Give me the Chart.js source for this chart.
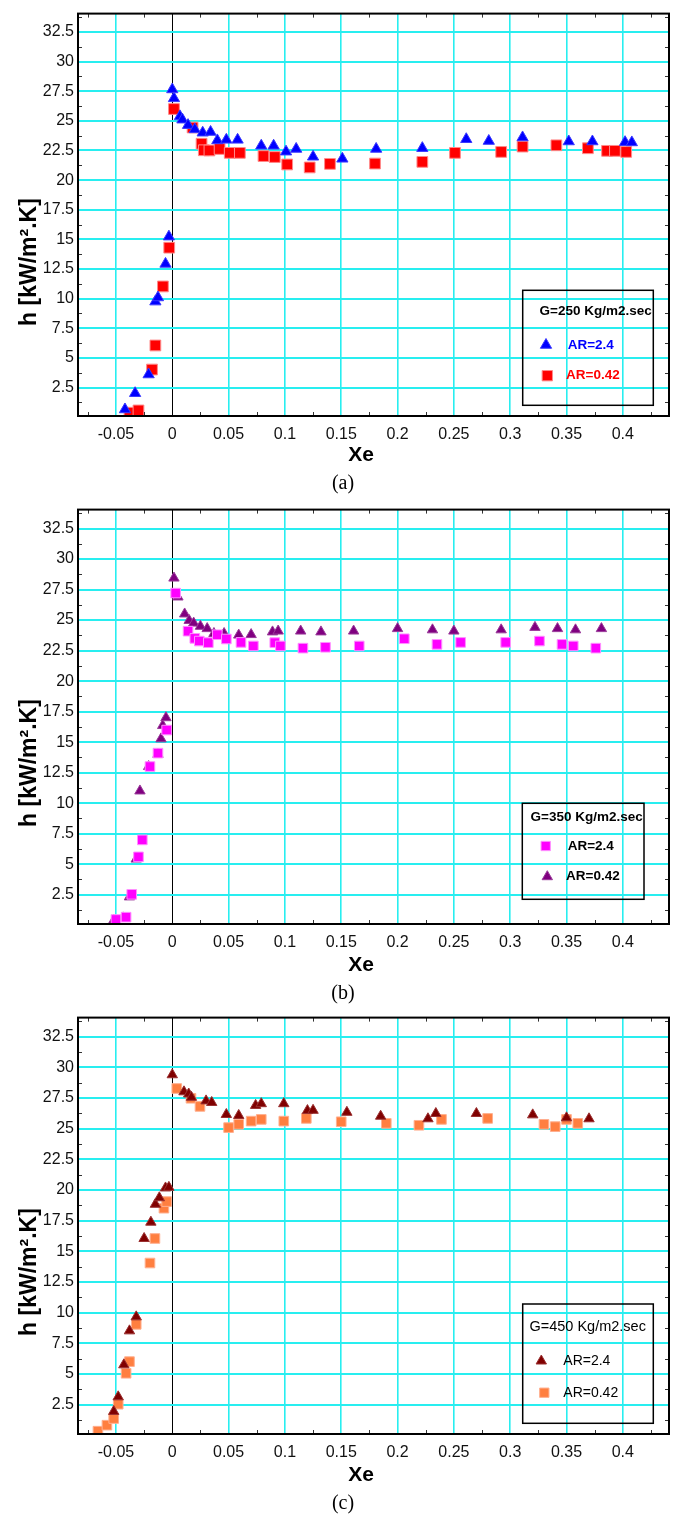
<!DOCTYPE html>
<html><head><meta charset="utf-8">
<script src="https://cdn.jsdelivr.net/npm/chart.js@4.4.0/dist/chart.umd.min.js"></script>
<style>
html,body{margin:0;padding:0;background:#fff;}
body{width:678px;height:1519px;position:relative;overflow:hidden;}
.c{position:absolute;left:0;width:678px;}
canvas{display:block;}
</style></head><body>
<div class="c" style="top:0px;height:496px"><canvas id="ca" width="678" height="496"></canvas></div>
<div class="c" style="top:496px;height:508px"><canvas id="cb" width="678" height="508"></canvas></div>
<div class="c" style="top:1004px;height:515px"><canvas id="cc" width="678" height="515"></canvas></div>
<script>
// ---------- tick labels ----------
const xTickVals = [-0.05,0,0.05,0.1,0.15,0.2,0.25,0.3,0.35,0.4];
const xTickLabels = ['-0.05','0','0.05','0.1','0.15','0.2','0.25','0.3','0.35','0.4'];
const xMinorVals = [-0.075,-0.025,0.025,0.075,0.125,0.175,0.225,0.275,0.325,0.375,0.425];
const yTickVals = [2.5,5,7.5,10,12.5,15,17.5,20,22.5,25,27.5,30,32.5];
const yTickLabels = ['2.5','5','7.5','10','12.5','15','17.5','20','22.5','25','27.5','30','32.5'];
const yMinorVals = [1.25,3.75,6.25,8.75,11.25,13.75,16.25,18.75,21.25,23.75,26.25,28.75,31.25,33.75];
const X_MIN = -0.0837, X_MAX = 0.441, Y_MIN = 0.1, Y_MAX = 34.05;

// ---------- panel (a): G=250 ----------
const aTitle = 'G=250 Kg/m2.sec';
const aS1Label = 'AR=2.4', aS2Label = 'AR=0.42';
const aS1x = [-0.042,-0.033,-0.021,-0.015,-0.0127,-0.006,-0.003,0,0.0015,0.0068,0.009,0.014,0.020,0.027,0.034,0.040,0.048,0.058,0.079,0.090,0.101,0.110,0.125,0.151,0.181,0.222,0.261,0.281,0.311,0.352,0.373,0.402,0.408];
const aS1y = [0.65,2.02,3.6,9.75,10.1,12.93,15.23,27.65,26.9,25.38,25.1,24.64,24.28,24.0,24.06,23.35,23.4,23.4,22.9,22.9,22.4,22.63,21.97,21.8,22.63,22.7,23.45,23.3,23.6,23.26,23.26,23.2,23.18];
const aS2x = [-0.038,-0.030,-0.018,-0.015,-0.0083,-0.0027,0.0015,0.018,0.026,0.028,0.033,0.042,0.051,0.060,0.081,0.091,0.102,0.122,0.140,0.180,0.222,0.251,0.292,0.311,0.341,0.369,0.386,0.393,0.403];
const aS2y = [0.38,0.57,4.02,6.05,11.03,14.3,26.0,24.44,23.07,22.52,22.5,22.63,22.3,22.3,22.03,21.95,21.32,21.07,21.37,21.4,21.54,22.3,22.38,22.83,22.94,22.69,22.47,22.47,22.38];

// ---------- panel (b): G=350 ----------
const bTitle = 'G=350 Kg/m2.sec';
const bS1Label = 'AR=2.4', bS2Label = 'AR=0.42';
const bS1x = [-0.050,-0.041,-0.036,-0.030,-0.0266,-0.0198,-0.0127,-0.005,0.003,0.014,0.020,0.024,0.032,0.040,0.048,0.061,0.072,0.091,0.096,0.116,0.136,0.166,0.206,0.235,0.256,0.296,0.326,0.346,0.356,0.376];
const bS1y = [0.47,0.66,2.53,5.6,6.99,13.0,14.1,15.99,27.21,24.09,23.5,23.28,23.15,23.8,23.45,23.17,22.88,23.15,22.88,22.7,22.77,22.88,23.47,23.01,23.17,23.17,23.28,23.01,22.88,22.7];
const bS2x = [-0.052,-0.0435,-0.038,-0.032,-0.0287,-0.021,-0.0127,-0.010,-0.0085,-0.0056,0.0015,0.005,0.011,0.015,0.019,0.025,0.031,0.037,0.046,0.059,0.070,0.089,0.094,0.114,0.132,0.161,0.200,0.231,0.250,0.292,0.322,0.342,0.358,0.381];
const bS2y = [0.39,0.6,2.32,5.42,11.0,13.0,14.0,15.27,16.36,17.0,28.44,26.89,25.5,24.97,24.75,24.49,24.3,23.9,23.9,23.77,23.81,24.03,24.1,24.1,24.03,24.1,24.3,24.2,24.1,24.2,24.4,24.3,24.2,24.3];

// ---------- panel (c): G=450 ----------
const cTitle = 'G=450 Kg/m2.sec';
const cS1Label = 'AR=2.4', cS2Label = 'AR=0.42';
const cS1x = [-0.052,-0.048,-0.043,-0.038,-0.032,-0.025,-0.019,-0.015,-0.0115,-0.006,-0.003,0,0.0104,0.0146,0.017,0.030,0.035,0.048,0.059,0.074,0.079,0.099,0.120,0.125,0.155,0.185,0.227,0.234,0.270,0.320,0.350,0.370];
const cS1y = [1.94,3.13,5.74,8.51,9.65,16.04,17.37,18.83,19.36,20.16,20.21,29.39,28.0,27.82,27.55,27.26,27.13,26.15,26.07,26.89,27.03,27.03,26.47,26.49,26.33,26.01,25.8,26.23,26.23,26.12,25.88,25.8];
const cS2x = [-0.066,-0.058,-0.052,-0.048,-0.041,-0.038,-0.032,-0.0198,-0.0154,-0.0074,-0.005,0.004,0.0166,0.0246,0.050,0.059,0.070,0.079,0.099,0.119,0.150,0.190,0.219,0.239,0.280,0.330,0.340,0.350,0.360];
const cS2y = [0.33,0.82,1.36,2.53,5.05,6.0,9.04,14.04,16.04,18.51,19.05,28.27,27.47,26.81,25.08,25.35,25.61,25.75,25.61,25.83,25.56,25.43,25.27,25.75,25.83,25.35,25.16,25.75,25.43];

const FONT = "'Liberation Sans', Arial, sans-serif";
const pts = (xs, ys) => xs.map((x, i) => ({x: x, y: ys[i]}));

function drawMarker(ctx, shape, x, y, r, fill, stroke) {
  ctx.save();
  ctx.fillStyle = fill; ctx.strokeStyle = stroke; ctx.lineWidth = 1;
  ctx.beginPath();
  if (shape === 'triangle') {
    let a = 0;
    ctx.moveTo(x + Math.sin(a) * r, y - Math.cos(a) * r);
    a += 2 * Math.PI / 3;
    ctx.lineTo(x + Math.sin(a) * r, y - Math.cos(a) * r);
    a += 2 * Math.PI / 3;
    ctx.lineTo(x + Math.sin(a) * r, y - Math.cos(a) * r);
    ctx.closePath();
  } else {
    const s = Math.SQRT1_2 * r;
    ctx.rect(x - s, y - s, 2 * s, 2 * s);
  }
  ctx.fill(); ctx.stroke();
  ctx.restore();
}

function framePlugin(cfg) {
  return {
    id: 'frame_' + cfg.id,
    afterDraw(chart) {
      const ctx = chart.ctx, ca = chart.chartArea;
      const xs = chart.scales.x, ys = chart.scales.y;
      const off = cfg.top;
      ctx.save();
      // minor ticks
      ctx.strokeStyle = '#333'; ctx.lineWidth = 1;
      xMinorVals.forEach(v => {
        const p = Math.round(xs.getPixelForValue(v)) + 0.5;
        ctx.beginPath();
        ctx.moveTo(p, ca.bottom); ctx.lineTo(p, ca.bottom - 4);
        ctx.moveTo(p, ca.top); ctx.lineTo(p, ca.top + 4);
        ctx.stroke();
      });
      yMinorVals.forEach(v => {
        const p = Math.round(ys.getPixelForValue(v)) + 0.5;
        if (p < ca.top || p > ca.bottom) return;
        ctx.beginPath();
        ctx.moveTo(ca.left, p); ctx.lineTo(ca.left + 4, p);
        ctx.moveTo(ca.right, p); ctx.lineTo(ca.right - 4, p);
        ctx.stroke();
      });
      // border
      ctx.strokeStyle = '#000'; ctx.lineWidth = 2;
      ctx.strokeRect(ca.left, ca.top, ca.right - ca.left, ca.bottom - ca.top);
      // axis titles
      ctx.fillStyle = '#000';
      ctx.textAlign = 'center'; ctx.textBaseline = 'middle';
      ctx.font = 'bold 21px ' + FONT;
      ctx.fillText('Xe', cfg.xeX, cfg.xeY - off);
      ctx.save();
      ctx.translate(30, cfg.yTitleY - off);
      ctx.rotate(-Math.PI / 2);
      ctx.font = 'bold 23px ' + FONT;
      ctx.fillText('h [kW/m\u00B2.K]', 0, 0);
      ctx.restore();
      // caption
      ctx.font = "20px 'Liberation Serif', 'Times New Roman', serif";
      ctx.fillText(cfg.caption, cfg.capX, cfg.capY - off);
      // legend box
      const L = cfg.legend;
      ctx.strokeStyle = '#000'; ctx.lineWidth = 1.5;
      ctx.strokeRect(L.x, L.y - off, L.w, L.h);
      ctx.font = L.titleFont;
      ctx.fillStyle = '#000';
      ctx.fillText(L.title, L.tx, L.ty - off);
      ctx.textAlign = 'left';
      ctx.font = L.itemFont;
      L.items.forEach((it, i) => {
        const ds = chart.data.datasets[it.ds];
        drawMarker(ctx, ds.pointStyle, it.mx, it.my - off, it.r, ds.backgroundColor, ds.borderColor);
        ctx.fillStyle = it.tc;
        ctx.fillText(ds.label, it.tx, it.my - off);
      });
      ctx.restore();
    }
  };
}

function makePanel(cfg) {
  return new Chart(document.getElementById(cfg.id), {
    type: 'scatter',
    data: {datasets: cfg.datasets},
    options: {
      responsive: false, animation: false,
      layout: {padding: {top: cfg.padTop, right: 9, left: 0, bottom: 0}},
      plugins: {legend: {display: false}, tooltip: {enabled: false}},
      scales: {
        x: {
          type: 'linear', min: X_MIN, max: X_MAX,
          afterBuildTicks: s => { s.ticks = xTickVals.map(v => ({value: v})); },
          afterFit: s => { s.height = cfg.xAxisH; },
          ticks: {autoSkip: false, maxRotation: 0, padding: 9, color: '#111',
                  font: {family: FONT, size: 16},
                  callback: (v, i) => xTickLabels[i]},
          grid: {drawTicks: false,
                 color: c => (c.tick && Math.abs(c.tick.value) < 1e-9) ? '#000' : '#28eef0',
                 lineWidth: c => (c.tick && Math.abs(c.tick.value) < 1e-9) ? 1 : 1.6},
          border: {display: false}
        },
        y: {
          type: 'linear', min: Y_MIN, max: Y_MAX,
          afterBuildTicks: s => { s.ticks = yTickVals.map(v => ({value: v})); },
          afterFit: s => { s.width = 78; },
          ticks: {autoSkip: false, padding: 4, color: '#111',
                  font: {family: FONT, size: 16},
                  callback: (v, i) => yTickLabels[i]},
          grid: {drawTicks: false, color: '#28eef0', lineWidth: 2},
          border: {display: false}
        }
      }
    },
    plugins: [framePlugin(cfg)]
  });
}

makePanel({
  id: 'ca', top: 0, padTop: 4, xAxisH: 80,
  xeX: 361, xeY: 455, yTitleY: 262, caption: '(a)', capX: 343, capY: 484,
  datasets: [
    {label: aS1Label, data: pts(aS1x, aS1y), pointStyle: 'triangle', pointRadius: 6.5,
     backgroundColor: '#0000ff', borderColor: '#3a3aff', borderWidth: 1, clip: 0},
    {label: aS2Label, data: pts(aS2x, aS2y), pointStyle: 'rect', pointRadius: 7.6,
     backgroundColor: '#ff0000', borderColor: '#ff8a8a', borderWidth: 1, clip: 0}
  ],
  legend: {x: 522.7, y: 290.3, w: 130.6, h: 115, title: aTitle, tx: 595.7, ty: 311.7,
           titleFont: 'bold 13.5px ' + FONT, itemFont: 'bold 13.5px ' + FONT,
           items: [{ds: 0, mx: 546, my: 345, r: 6.5, tx: 567.7, tc: '#0000ff'},
                   {ds: 1, mx: 547.3, my: 375.7, r: 7.3, tx: 566, tc: '#ff0000'}]}
});

makePanel({
  id: 'cb', top: 496, padTop: 4, xAxisH: 80,
  xeX: 361, xeY: 965, yTitleY: 763, caption: '(b)', capX: 343, capY: 994,
  datasets: [
    {label: bS1Label, data: pts(bS1x, bS1y), pointStyle: 'rect', pointRadius: 6.8,
     backgroundColor: '#ff00ff', borderColor: '#ff90ff', borderWidth: 1, clip: 0},
    {label: bS2Label, data: pts(bS2x, bS2y), pointStyle: 'triangle', pointRadius: 6,
     backgroundColor: '#800080', borderColor: '#9a3a9a', borderWidth: 1, clip: 0}
  ],
  legend: {x: 522.3, y: 803.3, w: 121.7, h: 96, title: bTitle, tx: 586.7, ty: 817.3,
           titleFont: 'bold 13.5px ' + FONT, itemFont: 'bold 13.5px ' + FONT,
           items: [{ds: 0, mx: 545.7, my: 846, r: 6.6, tx: 567.7, tc: '#000'},
                   {ds: 1, mx: 547.3, my: 876.7, r: 6, tx: 566, tc: '#000'}]}
});

makePanel({
  id: 'cc', top: 1004, padTop: 5, xAxisH: 85,
  xeX: 361, xeY: 1475, yTitleY: 1272, caption: '(c)', capX: 343, capY: 1504,
  datasets: [
    {label: cS1Label, data: pts(cS1x, cS1y), pointStyle: 'triangle', pointRadius: 6,
     backgroundColor: '#800000', borderColor: '#9a3030', borderWidth: 1, clip: 0},
    {label: cS2Label, data: pts(cS2x, cS2y), pointStyle: 'rect', pointRadius: 6.8,
     backgroundColor: '#ff7f40', borderColor: '#ffb090', borderWidth: 1, clip: 0}
  ],
  legend: {x: 522.7, y: 1304, w: 130.6, h: 119.3, title: cTitle, tx: 587.7, ty: 1327.3,
           titleFont: '14.5px ' + FONT, itemFont: '14px ' + FONT,
           items: [{ds: 0, mx: 541.3, my: 1361, r: 6, tx: 563.3, tc: '#000'},
                   {ds: 1, mx: 544.3, my: 1392.7, r: 6.6, tx: 563.3, tc: '#000'}]}
});
</script>
</body></html>
